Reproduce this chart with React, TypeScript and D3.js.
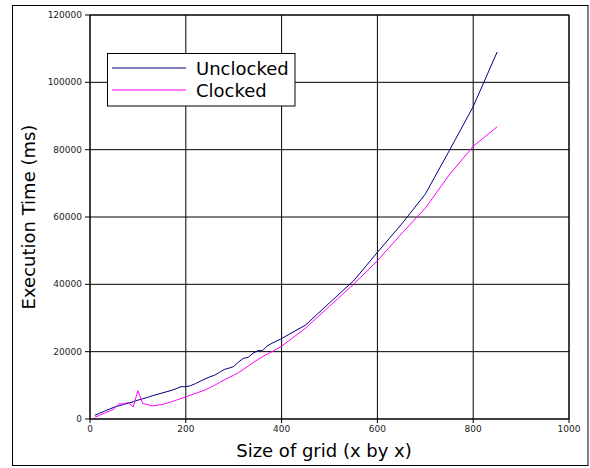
import React from 'react';
import * as d3 from 'd3';

// grid sizes (x by x)
const sizes = [
  10, 20, 30, 40, 50, 60, 70, 80, 90, 100,
  110, 120, 130, 140, 150, 160, 170, 180, 190, 200,
  210, 220, 230, 240, 250, 260, 270, 280, 290, 300,
  310, 320, 330, 340, 350, 360, 370, 380, 390, 400,
  450, 500, 550, 600, 650, 700, 750, 800, 850,
];

// execution time in ms
const unclocked = [
  1100, 1700, 2300, 2900, 3500, 3900, 4300, 4700, 5100, 5600,
  6000, 6400, 6900, 7300, 7700, 8100, 8500, 9000, 9600, 9600,
  9900, 10500, 11200, 11900, 12500, 13000, 13800, 14700, 15100, 15600,
  16900, 18000, 18300, 19500, 20300, 20300, 21700, 22500, 23200, 23900,
  27900, 34500, 41000, 49500, 57800, 66800, 79700, 92800, 109000,
];

const clocked = [
  500, 1100, 1700, 2300, 3000, 4500, 4500, 4900, 3600, 8400,
  4600, 4300, 3900, 4100, 4300, 4700, 5100, 5600, 6100, 6500,
  7100, 7600, 8100, 8600, 9300, 10000, 10800, 11600, 12300, 13000,
  13800, 14700, 15700, 16700, 17600, 18500, 19300, 20000, 20800, 21600,
  27000, 33500, 40000, 47000, 55000, 62600, 72500, 81000, 86800,
];

const xTicks = [0, 200, 400, 600, 800, 1000];
const yTicks = [0, 20000, 40000, 60000, 80000, 100000, 120000];

const seriesNames = ['Unclocked', 'Clocked'];
const seriesColors = ['#000080', '#ff00ff'];

export default function App() {
  const width = 590;
  const height = 468;
  const left = 90;
  const right = 569;
  const top = 15;
  const bottom = 419;

  const x = d3.scaleLinear().domain([0, 1000]).range([left, right]);
  const y = d3.scaleLinear().domain([0, 120000]).range([bottom, top]);

  const line = d3.line<number>()
    .x((_, i) => x(sizes[i]))
    .y(d => y(d));

  const series = [unclocked, clocked];
  const font = 'DejaVu Sans, sans-serif';

  return (
    <svg width={width} height={height} style={{ position: 'absolute', left: 0, top: 0 }} fontFamily={font}>
      <rect x={0} y={0} width={width} height={height} fill="white" />
      <rect x={12.5} y={5.5} width={575.5} height={460} fill="none" stroke="#000" />

      {/* grid */}
      {xTicks.map(t => (
        <line key={'gx' + t} x1={x(t)} x2={x(t)} y1={top} y2={bottom} stroke="#000" strokeWidth={1} />
      ))}
      {yTicks.map(t => (
        <line key={'gy' + t} x1={left} x2={right} y1={y(t)} y2={y(t)} stroke="#000" strokeWidth={1} />
      ))}
      <rect x={left} y={top} width={right - left} height={bottom - top} fill="none" stroke="#000" />

      {/* ticks */}
      {xTicks.map(t => (
        <g key={'tx' + t}>
          <line x1={x(t)} x2={x(t)} y1={bottom} y2={bottom + 4} stroke="#000" />
          <text x={x(t)} y={432} fontSize={9} textAnchor="middle" fill="#222">{t}</text>
        </g>
      ))}
      {yTicks.map(t => (
        <g key={'ty' + t}>
          <line x1={left - 5} x2={left} y1={y(t)} y2={y(t)} stroke="#000" />
          <text x={82} y={y(t)} dy="0.35em" fontSize={9} textAnchor="end" fill="#222">{t}</text>
        </g>
      ))}

      {/* series */}
      {series.map((s, i) => (
        <path key={seriesNames[i]} d={line(s) ?? ''} fill="none" stroke={seriesColors[i]} strokeWidth={1} />
      ))}

      {/* legend */}
      <rect x={107.5} y={53.5} width={187.5} height={52.5} fill="white" stroke="#000" />
      {seriesNames.map((n, i) => (
        <g key={'lg' + n}>
          <line x1={112} x2={186} y1={68 + i * 22} y2={68 + i * 22} stroke={seriesColors[i]} />
          <text x={196} y={74.5 + i * 22} fontSize={18} fill="#000">{n}</text>
        </g>
      ))}

      {/* axis titles */}
      <text x={324} y={457} fontSize={18} textAnchor="middle" fill="#000">Size of grid (x by x)</text>
      <text transform={`translate(35,${(top + bottom) / 2}) rotate(-90)`} fontSize={18} textAnchor="middle" fill="#000">Execution Time (ms)</text>
    </svg>
  );
}
